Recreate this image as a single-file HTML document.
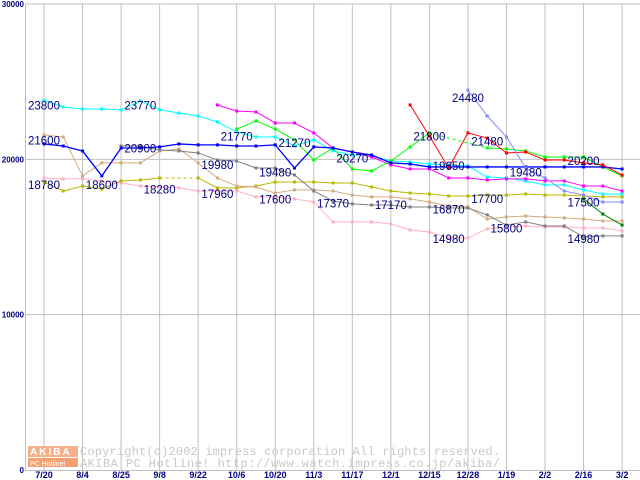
<!DOCTYPE html>
<html><head><meta charset="utf-8"><style>
body{margin:0;background:#fff;}
svg{display:block;font-family:"Liberation Sans",sans-serif;}
</style></head><body>
<svg id="chart" width="640" height="480" xmlns="http://www.w3.org/2000/svg">
<g id="grid"></g>
<g id="watermark">
<rect x="28" y="446" width="50" height="11" fill="#f5b08a"/>
<text x="30" y="455" font-size="10" fill="#fff" font-weight="bold" letter-spacing="2">AKIBA</text>
<rect x="28" y="458" width="50" height="9" fill="#f5a070"/>
<text x="30" y="466" font-size="7" fill="#fff">PC Hotline!</text>
<text x="80" y="455" font-size="12" fill="#c8c8c8" font-family="Liberation Mono, monospace" textLength="420">Copyright(c)2002 impress corporation All rights reserved.</text>
<text x="80" y="467" font-size="12" fill="#c8c8c8" font-family="Liberation Mono, monospace" textLength="420">AKIBA PC Hotline!  http://www.watch.impress.co.jp/akiba/</text>
</g>
<g id="series"></g>
<g id="labels"></g>
<g id="axes"></g>
</svg>
<script>
const xTicks = ["7/20","8/4","8/25","9/8","9/22","10/6","10/20","11/3","11/17","12/1","12/15","12/28","1/19","2/2","2/16","3/2"];
const yTicks = [0,10000,20000,30000];
const N = 31;
const cyan = [23800,23370,23240,23240,23180,23770,23180,22980,22790,22400,21770,21440,21440,20860,21250,20540,20280,20220,19890,19830,19700,19640,19570,18860,18800,18610,18350,18350,18030,17770,17770];
const blue = [20990,20860,20540,18930,20730,20730,20800,20990,20930,20930,20860,20860,20930,19440,20800,20730,20470,20280,19770,19700,19510,19510,19510,19510,19510,19510,19510,19510,19510,19510,19380];
const tan = [21570,21440,18930,19770,19770,19770,20540,20670,19770,18800,18280,18220,17830,18030,18030,17960,17700,17580,17580,17450,17250,17000,16930,16160,16290,16350,16290,16230,16160,16030,16030];
const gray = [null,null,null,null,20860,20860,20600,20540,20410,19960,19890,19440,19440,18990,17960,17320,17130,17060,17060,16930,16930,16870,16870,16420,15770,15970,15710,15710,15000,15070,15070];
const pink = [18800,18740,18740,18610,18480,18280,18220,18160,17960,17960,17960,17580,17580,17450,17250,15970,15970,15970,15840,15450,15320,14940,14940,15520,15650,15710,15650,15650,15580,15580,15390];
const olive = [18540,17960,18280,18090,18610,18670,18800,null,18800,18160,18160,18280,18540,18540,18540,18480,18480,18220,17960,17830,17770,17640,17640,17700,17700,17770,17700,17700,17640,17580,17580];
const magenta = [null,null,null,null,null,null,null,null,null,23500,23110,23050,22340,22340,21700,20730,20470,20150,19640,19380,19380,18800,18800,18670,18740,18740,18610,18610,18280,18280,17960];
const green = [null,null,null,null,null,null,null,null,null,null,21950,22470,21950,21250,19960,20730,19380,19250,19890,20800,21700,null,null,20730,20670,20540,20150,20150,20150,19510,18930];
const red = [null,null,null,null,null,null,null,null,null,null,null,null,null,null,null,null,null,null,null,23500,21500,19440,21700,21370,20410,20470,19960,19960,19770,19640,18990];
const purple = [null,null,null,null,null,null,null,null,null,null,null,null,null,null,null,null,null,null,null,null,null,null,24460,22790,21440,19440,18800,17960,17700,17250,17250];
const darkgreen = [null,null,null,null,null,null,null,null,null,null,null,null,null,null,null,null,null,null,null,null,null,null,null,null,null,null,null,null,17450,16480,15770];
const labelTexts = ["23800","23770","21600","20900","21770","21270","19980","19480","18780","18600","18280","17960","17600","17370","17170","16870","14980","15800","21800","20270","19650","21480","24480","19480","17700","20200","17500","14980"];
const labelIdx = [0,5,0,5,10,13,9,12,0,3,6,9,12,15,18,21,21,24,20,16,21,23,22,25,23,28,28,28];
const labelVals = [23200,23200,20950,20450,21200,20800,19380,18900,18100,18100,17800,17500,17150,16900,16800,16500,14600,15300,21200,19800,19300,20900,23700,18900,17200,19650,16950,14600];

const NS="http://www.w3.org/2000/svg";
function X(i){return 44+i*19.27;}
function Y(v){return 470-v*466/30000;}
function el(t,a,p){const e=document.createElementNS(NS,t);for(const k in a)e.setAttribute(k,a[k]);p.appendChild(e);return e;}
const grid=document.getElementById('grid'), axes=document.getElementById('axes'), ser=document.getElementById('series'), lab=document.getElementById('labels');
xTicks.forEach((t,k)=>{
  const x=X(k*2);
  const l=el('line',{x1:x,x2:x,y1:Y(30000),y2:470,stroke:'#c0c0c0','stroke-width':1},grid);
  
  
  const tx=el('text',{x:x,y:478,'font-size':9,'font-weight':'bold','text-anchor':'middle',fill:'#000080'},axes);
  tx.textContent=t;
  
  
});
yTicks.forEach(v=>{
  const y=Y(v);
  if(v>0){const l=el('line',{x1:25,x2:640,y1:y,y2:y,stroke:'#c0c0c0','stroke-width':1},grid);
  
  }
  const tx=el('text',{x:24,y:y+3,'font-size':8,'font-weight':'bold','text-anchor':'end',fill:'#000080'},axes);
  tx.textContent=String(v);
  
  
});
const ax=el('line',{x1:25.5,x2:25.5,y1:Y(30000),y2:470,stroke:'#c0c0c0'},grid);


const bx=el('line',{x1:25,x2:640,y1:470.5,y2:470.5,stroke:'#c0c0c0'},grid);



function draw(data,color,name,w){
  const g=el('g',{},ser);
  
  
  let prev=-1,gap=false;
  for(let i=0;i<N;i++){
    if(data[i]==null){if(prev>=0)gap=true;continue;}
    if(prev>=0){
      const a={x1:X(prev),y1:Y(data[prev]),x2:X(i),y2:Y(data[i]),stroke:color,'stroke-width':w};
      if(gap)a['stroke-dasharray']='3,3';
      el('line',a,g);
    }
    prev=i;gap=false;
  }
  for(let i=0;i<N;i++){
    if(data[i]==null)continue;
    const m=el('rect',{x:X(i)-1.5,y:Y(data[i])-1.5,width:3,height:3,fill:color},g);
    
    
  }
}
draw(pink,'#ffb0c0','series-pink',1);
draw(olive,'#b8b800','series-olive',1);
draw(tan,'#d2aa80','series-tan',1);
draw(gray,'#808080','series-gray',1);
draw(cyan,'#00ffff','series-cyan',1);
draw(magenta,'#ff00ff','series-magenta',1);
draw(green,'#00ff00','series-green',1);
draw(blue,'#0000ff','series-blue',1.3);
draw(red,'#ff0000','series-red',1);
draw(purple,'#8888ff','series-purple',1);
draw(darkgreen,'#008000','series-darkgreen',1);
labelTexts.forEach((t,k)=>{
  const tx=el('text',{x:X(labelIdx[k])-16,y:Y(labelVals[k]),'font-size':11.5,fill:'#000080'},lab);
  tx.textContent=t;
  
  
});
</script>
</body></html>
